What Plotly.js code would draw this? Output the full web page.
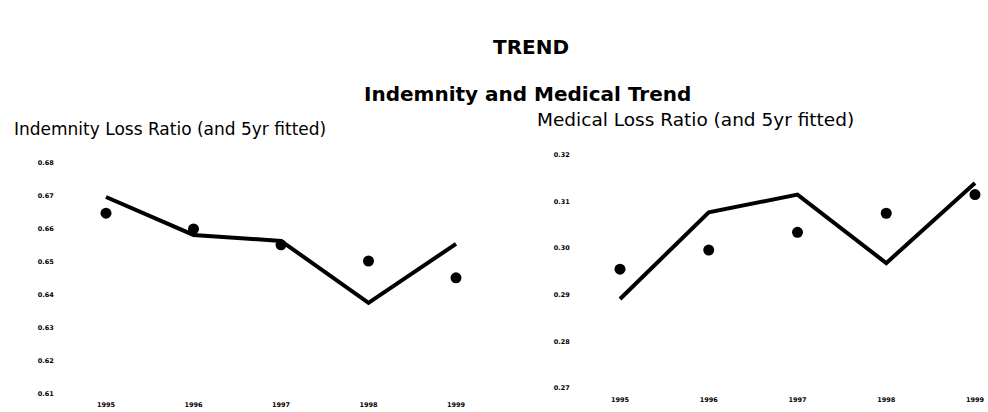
<!DOCTYPE html>
<html>
<head>
<meta charset="utf-8">
<script src="https://cdn.plot.ly/plotly-3.0.1.min.js"></script>
<style>html,body{margin:0;padding:0;background:#fff;}#chart{width:988px;height:412px;}</style>
</head>
<body>
<div id="chart"></div>
<script>
// Data
const years = [1995, 1996, 1997, 1998, 1999];
const indemnityActual = [0.6648, 0.6600, 0.6552, 0.6503, 0.6452];
const indemnityFitted = [0.6697, 0.6582, 0.6564, 0.6376, 0.6555];
const medicalActual = [0.2955, 0.2996, 0.3034, 0.3075, 0.3115];
const medicalFitted = [0.2891, 0.3077, 0.3115, 0.2968, 0.3140];
const indemnityTicks = [0.61, 0.62, 0.63, 0.64, 0.65, 0.66, 0.67, 0.68];
const medicalTicks = [0.27, 0.28, 0.29, 0.30, 0.31, 0.32];

const W = 988, H = 412;
function rangeFor(a, b, v1, p1, v2, p2) {
  const s = (v2 - v1) / (p2 - p1);
  return [v1 + (a - p1) * s, v1 + (b - p1) * s];
}
function xdom(a, b) { return [a / W, b / W]; }
function ydom(top, bottom) { return [1 - bottom / H, 1 - top / H]; }

const lineStyle = {color: '#000', width: 4};
const markerStyle = {color: '#000', size: 11};

const traces = [
  {x: years, y: indemnityFitted, mode: 'lines', line: lineStyle, xaxis: 'x', yaxis: 'y'},
  {x: years, y: indemnityActual, mode: 'markers', marker: markerStyle, xaxis: 'x', yaxis: 'y'},
  {x: years, y: medicalFitted, mode: 'lines', line: lineStyle, xaxis: 'x2', yaxis: 'y2'},
  {x: years, y: medicalActual, mode: 'markers', marker: markerStyle, xaxis: 'x2', yaxis: 'y2'}
];

const tickFont = {family: 'DejaVu Sans', size: 6.5, color: '#000', weight: 'bold'};
const baseAxis = {showgrid: false, zeroline: false, showline: false, ticks: 'outside', tickcolor: 'rgba(0,0,0,0)', fixedrange: true, tickfont: tickFont};

function title(text, px, py, size, bold, anchor) {
  return {text: text, x: px / W, y: 1 - py / H, xref: 'paper', yref: 'paper', showarrow: false,
    xanchor: anchor, yanchor: 'middle',
    font: {family: 'DejaVu Sans', size: size, color: '#000', weight: bold ? 'bold' : 'normal'}};
}

const layout = {
  width: W, height: H,
  margin: {l: 0, r: 0, t: 0, b: 0},
  paper_bgcolor: '#fff', plot_bgcolor: '#fff',
  showlegend: false,
  xaxis: Object.assign({}, baseAxis, {
    domain: xdom(62, 500), range: rangeFor(62, 500, 1995, 106, 1999, 456),
    tickvals: years, ticktext: years.map(String), ticklen: 1, anchor: 'y'
  }),
  yaxis: Object.assign({}, baseAxis, {
    domain: ydom(158, 397), range: rangeFor(397, 158, 0.61, 394, 0.68, 163),
    tickvals: indemnityTicks, ticktext: indemnityTicks.map(v => v.toFixed(2)), ticklen: 6, anchor: 'x'
  }),
  xaxis2: Object.assign({}, baseAxis, {
    domain: xdom(578, 988), range: rangeFor(578, 988, 1995, 620, 1999, 975),
    tickvals: years, ticktext: years.map(String), ticklen: 1, anchor: 'y2'
  }),
  yaxis2: Object.assign({}, baseAxis, {
    domain: ydom(150, 392), range: rangeFor(392, 150, 0.27, 388, 0.32, 155),
    tickvals: medicalTicks, ticktext: medicalTicks.map(v => v.toFixed(2)), ticklen: 6, anchor: 'x2'
  }),
  annotations: [
    title('TREND', 531, 47, 20, true, 'center'),
    title('Indemnity and Medical Trend', 527, 94, 20, true, 'center'),
    title('Indemnity Loss Ratio (and 5yr fitted)', 12, 129, 17, false, 'left'),
    title('Medical Loss Ratio (and 5yr fitted)', 535, 119, 18.5, false, 'left')
  ]
};

Plotly.newPlot('chart', traces, layout, {displayModeBar: false, staticPlot: true});
</script>
</body>
</html>
